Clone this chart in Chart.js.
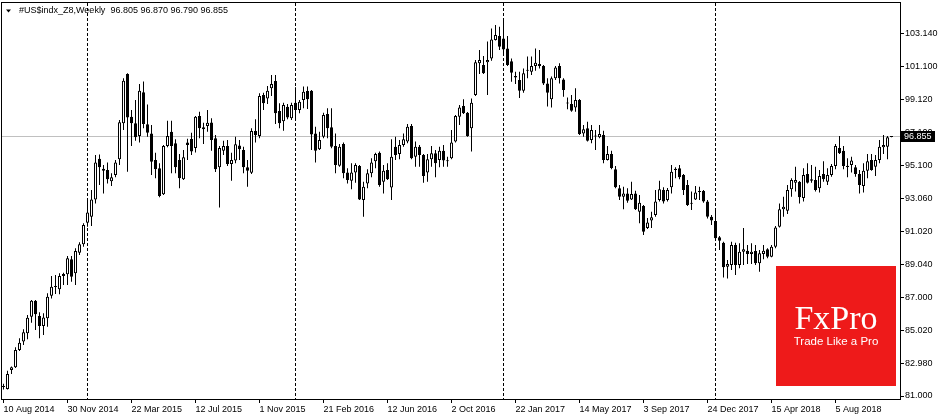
<!DOCTYPE html>
<html lang="en">
<head>
<meta charset="UTF-8">
<title>#US$indx_Z8, Weekly</title>
<script src="https://cdn.jsdelivr.net/npm/chart.js@4"></script>
<style>
  html, body { margin: 0; padding: 0; background: #fff; }
  canvas { display: block; }
</style>
</head>
<body>
<canvas id="chart" width="940" height="420"></canvas>
<script>
// weekly bars, first one is the week of 10 Aug 2014
const symbol = '#US$indx_Z8,Weekly';
const firstWeek = Date.UTC(2014, 7, 10);
const dateLabels = ['10 Aug 2014', '30 Nov 2014', '22 Mar 2015', '12 Jul 2015', '1 Nov 2015',
  '21 Feb 2016', '12 Jun 2016', '2 Oct 2016', '22 Jan 2017', '14 May 2017', '3 Sep 2017',
  '24 Dec 2017', '15 Apr 2018', '5 Aug 2018'];
const labelEvery = 16;
const priceTicks = [103.14, 101.10, 99.12, 97.10, 95.10, 93.06, 91.02, 89.04, 87.00, 85.02, 82.98, 81.00];

const opens = [
  81.55, 81.43, 82.59, 82.75, 83.81, 84.32, 84.83, 85.84, 86.82, 85.88,
  85.27, 85.74, 87.12, 87.65, 87.51, 88.33, 88.43, 89.35, 88.49, 89.75,
  90.26, 91.58, 91.94, 93.00, 95.49, 94.75, 94.80, 94.11, 94.49, 95.45,
  97.65, 100.66, 98.05, 97.65, 96.87, 99.54, 97.59, 97.03, 95.41, 94.90,
  93.31, 96.26, 97.13, 96.43, 95.41, 94.23, 96.47, 96.69, 96.14, 98.09,
  97.40, 97.48, 97.70, 96.73, 94.96, 95.97, 96.26, 95.16, 95.37, 96.30,
  96.02, 94.96, 94.63, 97.18, 96.87, 99.38, 99.17, 99.79, 100.23, 98.40,
  97.77, 98.66, 97.95, 98.91, 98.46, 99.07, 99.62, 99.64, 97.03, 96.06,
  96.83, 98.22, 97.40, 96.26, 95.06, 96.38, 94.64, 94.14, 94.64, 95.04,
  92.97, 93.98, 94.60, 95.33, 95.85, 94.08, 94.80, 93.73, 96.22, 95.77,
  96.32, 96.53, 97.48, 95.61, 96.22, 95.71, 94.64, 95.45, 95.82, 95.41,
  95.97, 95.37, 95.51, 96.53, 98.05, 98.70, 98.30, 97.34, 99.38, 101.31,
  101.21, 101.37, 101.61, 102.73, 102.98, 102.83, 102.22, 101.43, 100.54, 100.29,
  99.64, 100.86, 100.80, 101.15, 101.27, 101.15, 100.08, 99.11, 100.40, 101.15,
  100.33, 98.87, 98.83, 98.62, 99.07, 97.03, 97.34, 96.63, 96.87, 96.79,
  96.93, 95.41, 95.78, 94.84, 93.68, 93.17, 93.37, 93.00, 93.37, 92.25,
  92.60, 91.26, 91.71, 92.05, 92.97, 93.58, 92.97, 93.74, 94.80, 94.90,
  94.49, 93.88, 92.76, 93.00, 93.48, 93.51, 92.87, 91.94, 91.68, 90.69,
  90.36, 88.89, 89.00, 90.22, 89.00, 89.81, 89.87, 89.67, 89.85, 89.10,
  89.67, 89.96, 89.50, 90.11, 91.34, 92.40, 92.31, 93.62, 94.02, 94.08,
  93.09, 94.55, 94.23, 94.19, 93.68, 94.55, 94.08, 94.49, 95.04, 96.14,
  95.97, 95.06, 95.10, 94.96, 94.55, 93.82, 94.75, 95.41, 95.00, 95.41,
  96.18, 96.22, 96.805
];
const highs = [
  81.75, 82.54, 82.80, 83.98, 84.52, 85.07, 85.95, 86.86, 86.86, 86.11,
  86.05, 87.27, 88.33, 88.39, 88.49, 88.53, 89.55, 89.55, 90.02, 90.38,
  91.54, 92.97, 93.58, 95.71, 95.75, 95.10, 95.25, 94.60, 95.41, 97.85,
  100.40, 100.70, 98.46, 99.07, 100.05, 100.20, 98.80, 97.54, 95.85, 95.21,
  96.32, 97.81, 97.81, 96.67, 95.77, 96.02, 96.70, 97.07, 98.09, 98.36,
  97.68, 98.46, 97.95, 96.93, 96.26, 96.58, 96.63, 95.85, 96.83, 96.63,
  96.22, 95.41, 97.34, 97.89, 99.48, 99.52, 99.93, 100.60, 100.60, 98.87,
  98.91, 98.83, 98.91, 99.85, 99.07, 99.89, 99.89, 99.68, 97.44, 97.13,
  98.30, 98.56, 98.56, 97.03, 96.38, 96.47, 94.90, 95.21, 95.21, 95.10,
  94.08, 94.84, 95.52, 95.85, 95.92, 95.10, 95.21, 96.67, 96.83, 96.63,
  97.03, 97.61, 97.61, 96.53, 96.32, 95.77, 95.77, 96.26, 96.02, 96.22,
  96.32, 95.61, 97.24, 98.16, 98.77, 99.11, 98.34, 99.17, 101.51, 102.12,
  101.76, 102.64, 103.44, 103.65, 103.54, 103.95, 102.98, 101.61, 100.80, 100.80,
  101.00, 101.72, 101.72, 102.22, 102.12, 101.21, 100.40, 100.50, 101.15, 101.31,
  100.40, 99.23, 99.38, 99.79, 99.13, 97.54, 97.75, 97.54, 97.24, 97.54,
  97.20, 96.26, 95.97, 95.04, 93.88, 93.78, 93.68, 94.08, 93.53, 93.27,
  92.66, 91.87, 92.25, 93.58, 94.14, 93.74, 93.70, 95.10, 94.96, 95.10,
  94.55, 94.19, 93.48, 93.82, 93.78, 93.58, 92.97, 92.05, 92.36, 90.77,
  90.42, 89.30, 90.42, 90.36, 90.32, 91.26, 90.22, 90.32, 90.22, 89.91,
  90.22, 90.02, 90.22, 91.38, 92.76, 93.17, 93.88, 94.29, 95.00, 94.13,
  94.90, 95.21, 95.10, 95.00, 94.80, 95.33, 94.90, 95.16, 96.38, 96.87,
  96.26, 95.51, 95.61, 95.10, 94.80, 95.21, 95.77, 95.77, 95.71, 96.63,
  96.93, 96.87, 96.870
];
const lows = [
  81.40, 81.40, 82.34, 82.71, 83.75, 84.11, 84.46, 85.47, 85.03, 84.52,
  84.72, 85.23, 86.96, 87.23, 87.21, 87.78, 87.78, 87.98, 87.78, 89.61,
  90.11, 91.34, 91.38, 92.76, 93.88, 93.37, 93.98, 93.82, 94.35, 95.10,
  97.24, 94.69, 96.26, 96.58, 96.47, 97.34, 96.82, 94.49, 94.29, 93.13,
  93.27, 96.18, 94.60, 94.60, 93.68, 94.19, 95.41, 95.71, 95.86, 96.73,
  96.38, 97.13, 95.97, 94.68, 92.51, 95.71, 95.04, 94.14, 95.21, 95.41,
  94.60, 93.78, 94.55, 96.47, 96.73, 98.46, 98.83, 99.31, 97.61, 97.34,
  97.20, 97.89, 97.85, 97.95, 98.26, 98.56, 98.52, 96.02, 95.25, 96.02,
  96.73, 96.73, 96.12, 94.60, 95.00, 94.29, 93.98, 93.62, 94.02, 92.97,
  91.94, 93.68, 94.35, 94.90, 93.78, 93.37, 94.19, 92.97, 95.41, 95.45,
  96.22, 96.43, 95.45, 95.00, 95.00, 94.02, 94.08, 95.00, 94.35, 94.96,
  95.00, 95.00, 95.45, 96.47, 97.54, 98.22, 96.83, 95.92, 99.31, 100.66,
  100.66, 99.38, 101.47, 102.71, 102.12, 101.92, 101.15, 100.19, 100.05, 99.19,
  99.52, 100.40, 100.60, 100.86, 101.00, 99.99, 98.67, 98.62, 100.29, 100.08,
  99.27, 98.50, 98.36, 98.36, 96.93, 96.83, 96.53, 96.43, 96.02, 96.73,
  95.21, 95.37, 94.84, 93.68, 92.97, 92.40, 92.80, 92.97, 92.36, 91.54,
  90.83, 91.20, 91.26, 91.94, 92.87, 92.76, 92.87, 93.37, 94.29, 94.23,
  93.27, 92.60, 92.36, 92.97, 92.97, 92.80, 91.84, 91.44, 90.52, 89.91,
  88.24, 88.18, 88.69, 88.39, 88.80, 89.00, 89.06, 89.06, 89.00, 88.59,
  89.35, 89.41, 89.47, 90.02, 91.29, 91.94, 92.11, 93.17, 93.48, 92.76,
  92.87, 93.98, 94.02, 93.48, 93.42, 94.08, 93.88, 94.39, 94.84, 95.77,
  94.84, 94.35, 94.64, 94.39, 93.37, 93.42, 94.29, 94.75, 94.43, 95.21,
  95.77, 95.45, 96.790
];
const closes = [
  81.60, 82.34, 82.75, 83.81, 84.25, 84.89, 85.78, 86.82, 85.99, 85.27,
  85.80, 87.06, 87.67, 87.72, 88.33, 88.45, 89.41, 88.28, 89.85, 90.26,
  91.44, 92.21, 93.00, 95.26, 94.96, 94.87, 94.23, 94.35, 95.25, 97.71,
  100.25, 98.01, 97.65, 96.79, 99.64, 97.61, 97.07, 95.30, 94.84, 93.21,
  96.26, 96.87, 96.26, 94.96, 94.29, 95.57, 96.32, 95.92, 98.05, 97.34,
  97.28, 97.68, 96.63, 94.84, 96.14, 96.26, 95.16, 95.41, 96.37, 96.06,
  94.96, 94.75, 97.18, 96.93, 99.31, 98.87, 99.64, 100.05, 98.26, 97.65,
  98.77, 98.01, 98.77, 98.46, 98.97, 99.58, 99.11, 96.97, 95.97, 96.63,
  98.16, 97.34, 96.22, 95.10, 96.22, 94.60, 94.19, 94.64, 95.10, 93.00,
  93.78, 94.60, 95.25, 95.78, 93.88, 94.75, 94.23, 95.61, 95.71, 96.32,
  96.67, 97.44, 95.51, 96.22, 95.71, 94.43, 95.45, 95.82, 95.21, 95.97,
  95.37, 95.33, 96.47, 98.09, 98.62, 98.26, 96.87, 98.91, 101.37, 101.51,
  100.70, 101.51, 102.77, 103.04, 102.32, 102.16, 101.21, 100.74, 100.45, 99.64,
  100.70, 100.90, 101.15, 101.35, 101.15, 100.08, 99.52, 100.40, 101.06, 100.40,
  99.68, 98.85, 98.42, 99.07, 96.99, 97.28, 96.58, 97.24, 96.85, 96.99,
  95.41, 95.77, 94.92, 93.74, 93.17, 93.37, 92.92, 93.33, 92.40, 92.80,
  91.03, 91.60, 91.92, 92.87, 93.62, 92.87, 93.58, 94.69, 94.87, 94.35,
  93.58, 92.66, 92.74, 93.43, 93.46, 92.87, 91.94, 91.71, 90.63, 90.48,
  88.86, 89.06, 90.22, 89.00, 89.81, 89.96, 89.67, 89.81, 89.10, 89.71,
  89.87, 89.50, 90.11, 91.29, 92.40, 92.56, 93.58, 94.19, 94.19, 93.13,
  94.49, 94.02, 94.14, 93.58, 94.43, 94.23, 94.49, 95.04, 96.26, 95.82,
  95.04, 94.98, 95.37, 94.55, 93.88, 94.75, 95.33, 94.80, 95.41, 96.22,
  96.32, 96.80, 96.855
];

const last = closes.length - 1;

// first bar of each new year gets a period separator
const yearStarts = [];
for (let i = 1; i < opens.length; i++) {
  const y0 = new Date(firstWeek + (i - 1) * 7 * 86400000).getUTCFullYear();
  const y1 = new Date(firstWeek + i * 7 * 86400000).getUTCFullYear();
  if (y1 !== y0) yearStarts.push(i);
}

const bodies = opens.map((o, i) => ({ x: i, y: [o, closes[i]] }));
const wicks = opens.map((o, i) => ({ x: i, y: [lows[i], highs[i]] }));

const mt4 = {
  id: 'mt4',
  beforeDatasetsDraw(chart) {
    const { ctx, chartArea: a, scales: { x, y } } = chart;
    ctx.save();
    ctx.lineWidth = 1;
    // current price line
    const py = Math.floor(y.getPixelForValue(closes[last])) + 0.5;
    ctx.strokeStyle = '#c0c0c0';
    ctx.beginPath();
    ctx.moveTo(a.left, py);
    ctx.lineTo(a.right, py);
    ctx.stroke();
    // year separators
    ctx.strokeStyle = '#000';
    ctx.setLineDash([3, 2]);
    yearStarts.forEach(i => {
      const px = Math.floor(x.getPixelForValue(i)) + 0.5;
      ctx.beginPath();
      ctx.moveTo(px, a.top);
      ctx.lineTo(px, a.bottom);
      ctx.stroke();
    });
    ctx.restore();
  },
  afterDraw(chart) {
    const { ctx, chartArea: a, scales: { y } } = chart;
    ctx.save();
    // frame
    ctx.strokeStyle = '#000';
    ctx.lineWidth = 1;
    ctx.strokeRect(a.left + 0.5, a.top - 0.5, a.right - a.left, a.bottom - a.top + 1);

    // header
    ctx.fillStyle = '#000';
    ctx.beginPath();
    ctx.moveTo(6, 9.5);
    ctx.lineTo(11, 9.5);
    ctx.lineTo(8.5, 12.5);
    ctx.closePath();
    ctx.fill();
    ctx.font = '9px "Liberation Sans", Arial, sans-serif';
    ctx.textBaseline = 'middle';
    const ohlc = [opens[last], highs[last], lows[last], closes[last]].map(v => v.toFixed(3)).join(' ');
    ctx.fillText(symbol + '  ' + ohlc, 19, 11);

    // price label on the axis
    const cy = y.getPixelForValue(closes[last]);
    ctx.fillRect(901, Math.round(cy - 5.5), 34, 11);
    ctx.fillStyle = '#fff';
    ctx.fillText(closes[last].toFixed(3), 904, cy + 0.5);

    // FxPro badge
    ctx.fillStyle = '#ee1a1a';
    ctx.fillRect(776, 266, 120, 120);
    ctx.fillStyle = '#fff';
    ctx.textAlign = 'center';
    ctx.textBaseline = 'alphabetic';
    ctx.font = '34px "Liberation Serif", "DejaVu Serif", serif';
    ctx.fillText('FxPro', 836, 329);
    ctx.font = '11.5px "Liberation Sans", Arial, sans-serif';
    ctx.fillText('Trade Like a Pro', 836, 345);
    ctx.restore();
  }
};

Chart.defaults.font.family = '"Liberation Sans", Arial, sans-serif';
Chart.defaults.font.size = 9;
Chart.defaults.color = '#000';

new Chart(document.getElementById('chart'), {
  type: 'bar',
  data: {
    datasets: [
      {
        data: bodies,
        backgroundColor: opens.map((o, i) => closes[i] >= o ? '#fff' : '#000'),
        borderColor: '#000',
        borderWidth: 1,
        borderSkipped: false,
        barThickness: 3,
        minBarLength: 1,
        grouped: false,
        inflateAmount: 0
      },
      {
        data: wicks,
        backgroundColor: '#000',
        borderWidth: 0,
        barThickness: 1,
        grouped: false,
        inflateAmount: 0
      }
    ]
  },
  options: {
    responsive: false,
    animation: false,
    events: [],
    layout: { padding: { left: 1, top: 3, right: 0, bottom: 0 }, autoPadding: false },
    plugins: { legend: { display: false }, tooltip: { enabled: false } },
    scales: {
      x: {
        type: 'linear',
        offset: false,
        min: -0.625,
        max: 224.125,
        border: { display: false },
        grid: { offset: false, drawOnChartArea: false, drawTicks: true, tickLength: 4, color: '#000' },
        ticks: {
          align: 'start', maxRotation: 0, autoSkip: false, padding: 1,
          callback: (v, i) => dateLabels[i]
        },
        afterBuildTicks: s => { s.ticks = dateLabels.map((_, k) => ({ value: k * labelEvery })); },
        afterFit: s => { s.height = 21; s.paddingLeft = 0; s.paddingRight = 0; }
      },
      y: {
        position: 'right',
        min: 80.817,
        max: 104.993,
        border: { display: false },
        grid: { drawOnChartArea: false, drawTicks: true, tickLength: 4, color: '#000' },
        ticks: { autoSkip: false, padding: 1, callback: v => v.toFixed(3) },
        afterBuildTicks: s => { s.ticks = priceTicks.map(v => ({ value: v })); },
        afterFit: s => { s.width = 40; s.paddingTop = 0; s.paddingBottom = 0; }
      }
    }
  },
  plugins: [mt4]
});
</script>
</body>
</html>
